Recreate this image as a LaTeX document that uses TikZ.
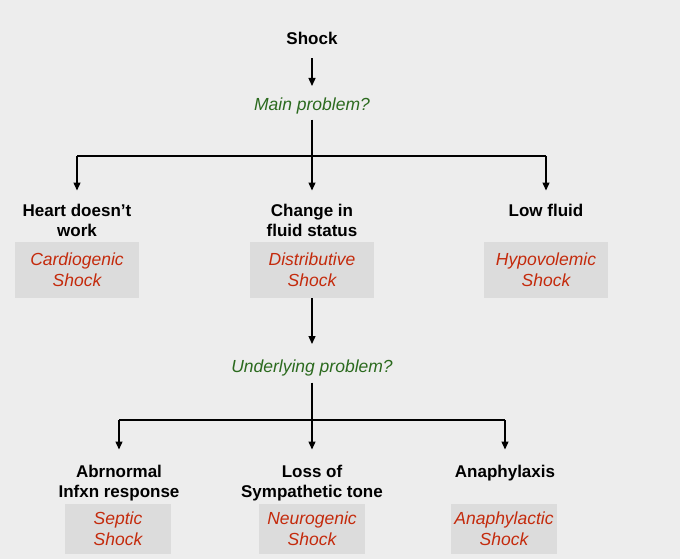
\documentclass[tikz,border=0pt]{standalone}
\usepackage{fontspec}
\setmainfont{Liberation Sans}
\usetikzlibrary{arrows.meta}
\definecolor{bgc}{HTML}{EDEDED}
\definecolor{boxc}{HTML}{DCDCDC}
\definecolor{redc}{HTML}{C42A0C}
\definecolor{greenc}{HTML}{2B6A1E}
\tikzset{
  lbl/.style={anchor=north, inner sep=0pt, align=center, text=black,
    font=\fontsize{17}{20.5}\selectfont\bfseries},
  qst/.style={anchor=north, inner sep=0pt, text=greenc,
    font=\fontsize{17.5}{21}\selectfont\itshape},
  tbox/.style={fill=boxc, inner sep=0pt, align=center, text=redc,
    font=\fontsize{17.5}{21}\selectfont\itshape},
  bigbox/.style={tbox, minimum width=124pt, minimum height=56pt},
  smallbox/.style={tbox, minimum width=106pt, minimum height=50pt},
  arr/.style={line width=1.4pt, -{Triangle[length=8pt,width=7pt]}},
  ln/.style={line width=1.4pt}
}
\begin{document}
\begin{tikzpicture}[x=1pt,y=-1pt]
\fill[bgc] (0,0) rectangle (680,559);
\useasboundingbox (0,0) rectangle (680,559);

\node[lbl] (shock) at (312,31.5) {Shock};
\node[qst] (mainq) at (312,98) {Main problem?};

\node[lbl] (h1) at (77,203.5) {Heart doesn’t\\work};
\node[lbl] (h2) at (312,203.5) {Change in\\fluid status};
\node[lbl] (h3) at (546,203.5) {Low fluid};

\node[bigbox] (b1) at (77,270) {Cardiogenic\\Shock};
\node[bigbox] (b2) at (312,270) {Distributive\\Shock};
\node[bigbox] (b3) at (546,270) {Hypovolemic\\Shock};

\node[qst] (underq) at (312,360) {Underlying problem?};

\node[lbl] (l1) at (119,464.5) {Abrnormal\\Infxn response};
\node[lbl] (l2) at (312,464.5) {Loss of\\Sympathetic tone};
\node[lbl] (l3) at (505,464.5) {Anaphylaxis};

\node[smallbox] (s1) at (118,529) {Septic\\Shock};
\node[smallbox] (s2) at (312,529) {Neurogenic\\Shock};
\node[smallbox] (s3) at (504,529) {Anaphylactic\\Shock};

% connectors
\coordinate (j1) at (312,156);
\coordinate (j2) at (312,420);

\draw[arr] ([yshift=-14pt]shock.south) -- ([yshift=12pt]mainq.north);
\draw[arr] ([yshift=-5pt]mainq.south) -- ([yshift=13pt]h2.north);
\draw[ln] (j1 -| h1) -- (j1 -| h3);
\draw[arr] (j1 -| h1) -- ([yshift=13pt]h1.north);
\draw[arr] (j1 -| h3) -- ([yshift=13pt]h3.north);

\draw[arr] (b2.south) -- ([yshift=16pt]underq.north);
\draw[arr] ([yshift=-6pt]underq.south) -- ([yshift=15pt]l2.north);
\draw[ln] (j2 -| l1) -- (j2 -| l3);
\draw[arr] (j2 -| l1) -- ([yshift=15pt]l1.north);
\draw[arr] (j2 -| l3) -- ([yshift=15pt]l3.north);
\end{tikzpicture}
\end{document}
